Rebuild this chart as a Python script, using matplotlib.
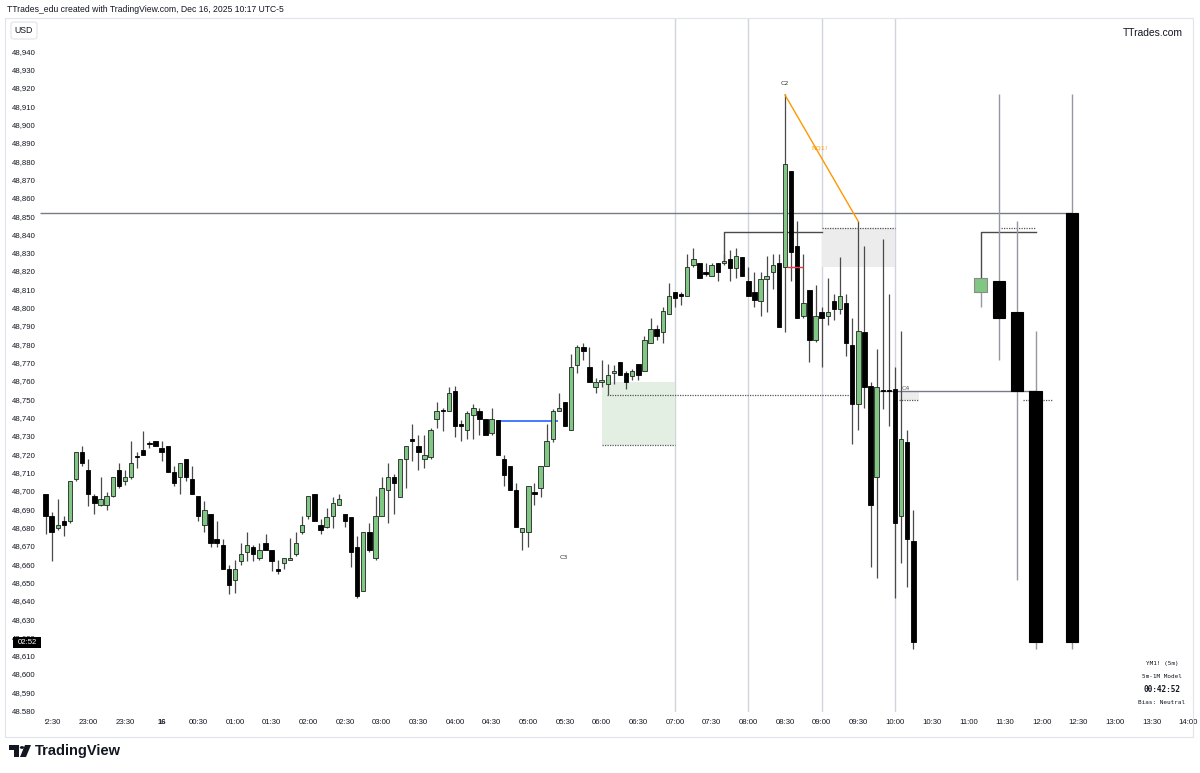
import matplotlib
matplotlib.use("Agg")
import matplotlib.pyplot as plt
from matplotlib.patches import Rectangle, Polygon, Circle, FancyBboxPatch
import matplotlib.transforms as mtransforms

# 5m candles, minutes relative to 07:00 (first bar 22:25)
t0 = -515
opens = [48699, 48687, 48680, 48684, 48684, 48707, 48722, 48712, 48698, 48693,
         48693, 48698, 48712, 48706, 48708, 48719, 48723, 48726, 48728, 48724,
         48725, 48711, 48708, 48718, 48707, 48698, 48682, 48688, 48674, 48671,
         48658, 48652, 48662, 48667, 48670, 48664, 48672, 48668, 48657, 48661,
         48663, 48666, 48678, 48687, 48699, 48682, 48681, 48687, 48693, 48688,
         48686, 48670, 48646, 48678, 48664, 48687, 48701, 48708, 48697, 48718,
         48728, 48725, 48718, 48719, 48740, 48744, 48744, 48755, 48737, 48734,
         48742, 48744, 48740, 48732, 48739, 48718, 48714, 48701, 48678, 48678,
         48699, 48702, 48714, 48729, 48744, 48749, 48734, 48769, 48779, 48768,
         48757, 48760, 48759, 48765, 48771, 48765, 48763, 48770, 48766, 48781,
         48789, 48787, 48797, 48809, 48807, 48807, 48824, 48825, 48820, 48818,
         48825, 48825, 48827, 48822, 48828, 48815, 48809, 48804, 48816, 48820,
         48825, 48823, 48875, 48834, 48796, 48810, 48783, 48798, 48796, 48804,
         48800, 48803, 48780, 48748, 48787, 48758, 48708, 48755, 48755, 48756,
         48687, 48727, 48673]
highs = [48699, 48689, 48696, 48687, 48706, 48722, 48725, 48718, 48699, 48708,
         48700, 48708, 48716, 48712, 48728, 48722, 48733, 48728, 48728, 48728,
         48725, 48714, 48716, 48718, 48714, 48698, 48695, 48688, 48684, 48674,
         48660, 48663, 48672, 48678, 48671, 48672, 48677, 48668, 48663, 48664,
         48675, 48678, 48687, 48698, 48699, 48685, 48691, 48697, 48699, 48688,
         48686, 48676, 48678, 48683, 48698, 48708, 48716, 48710, 48718, 48725,
         48737, 48731, 48731, 48735, 48749, 48746, 48757, 48758, 48739, 48744,
         48748, 48746, 48740, 48746, 48739, 48720, 48714, 48705, 48680, 48703,
         48705, 48714, 48737, 48745, 48754, 48749, 48775, 48780, 48781, 48779,
         48762, 48772, 48770, 48769, 48771, 48766, 48767, 48770, 48785, 48795,
         48791, 48801, 48814, 48809, 48809, 48830, 48833, 48825, 48825, 48825,
         48825, 48830, 48832, 48833, 48828, 48823, 48820, 48820, 48829, 48830,
         48830, 48917, 48875, 48848, 48830, 48810, 48813, 48801, 48817, 48808,
         48828, 48808, 48795, 48848, 48834, 48760, 48778, 48838, 48808, 48768,
         48788, 48734, 48690]
lows = [48677, 48662, 48679, 48676, 48683, 48706, 48714, 48692, 48688, 48692,
        48690, 48697, 48702, 48704, 48707, 48713, 48720, 48724, 48725, 48717,
        48711, 48703, 48699, 48706, 48699, 48684, 48678, 48670, 48670, 48658,
        48644, 48645, 48660, 48662, 48662, 48663, 48668, 48657, 48655, 48658,
        48663, 48665, 48677, 48685, 48684, 48677, 48680, 48680, 48693, 48681,
        48659, 48642, 48646, 48667, 48663, 48687, 48683, 48688, 48697, 48702,
        48717, 48712, 48713, 48718, 48735, 48733, 48744, 48730, 48728, 48729,
        48729, 48731, 48731, 48731, 48720, 48703, 48701, 48681, 48668, 48670,
        48693, 48697, 48714, 48727, 48744, 48736, 48734, 48765, 48772, 48760,
        48754, 48757, 48753, 48759, 48764, 48756, 48761, 48761, 48766, 48781,
        48783, 48781, 48797, 48801, 48802, 48807, 48823, 48817, 48818, 48818,
        48815, 48824, 48815, 48817, 48818, 48807, 48801, 48796, 48798, 48811,
        48790, 48787, 48815, 48795, 48795, 48771, 48782, 48768, 48791, 48794,
        48797, 48774, 48726, 48734, 48746, 48659, 48653, 48745, 48736, 48642,
        48661, 48648, 48614]
closes = [48687, 48678, 48682, 48682, 48706, 48722, 48716, 48699, 48694, 48696,
          48698, 48708, 48703, 48708, 48716, 48719, 48720, 48726, 48725, 48722,
          48711, 48705, 48716, 48708, 48699, 48687, 48690, 48672, 48672, 48658,
          48649, 48658, 48666, 48671, 48666, 48668, 48668, 48662, 48657, 48664,
          48664, 48672, 48682, 48698, 48684, 48679, 48686, 48694, 48696, 48684,
          48667, 48643, 48678, 48668, 48687, 48702, 48708, 48705, 48718, 48725,
          48728, 48722, 48720, 48734, 48744, 48744, 48754, 48736, 48736, 48743,
          48746, 48740, 48731, 48740, 48720, 48709, 48701, 48681, 48680, 48703,
          48699, 48714, 48728, 48744, 48746, 48736, 48768, 48779, 48777, 48760,
          48760, 48761, 48764, 48766, 48764, 48760, 48766, 48764, 48783, 48789,
          48785, 48799, 48807, 48806, 48807, 48823, 48827, 48817, 48819, 48824,
          48820, 48826, 48822, 48829, 48818, 48807, 48805, 48816, 48818, 48824,
          48790, 48879, 48831, 48795, 48803, 48783, 48796, 48795, 48798, 48800,
          48807, 48781, 48748, 48788, 48757, 48693, 48757, 48755, 48755, 48683,
          48729, 48674, 48618]

# higher timeframe candles projected on the right
htf_times = [250, 265, 280, 295, 325]
htf_open = [48809, 48815, 48798, 48755, 48852]
htf_high = [48817, 48917, 48848, 48788, 48917]
htf_low = [48801, 48772, 48652, 48614, 48614]
htf_close = [48817, 48795, 48755, 48618, 48618]

price_ticks = list(range(48580, 48950, 10))
time_ticks = list(range(-510, 421, 30))
time_labels = ["22:30", "23:00", "23:30", "16", "00:30", "01:00", "01:30", "02:00",
               "02:30", "03:00", "03:30", "04:00", "04:30", "05:00", "05:30", "06:00",
               "06:30", "07:00", "07:30", "08:00", "08:30", "09:00", "09:30", "10:00",
               "10:30", "11:00", "11:30", "12:00", "12:30", "13:00", "13:30", "14:00"]

W, H = 1200, 773
GREEN = "#81c784"
TXT = "#131722"

fig = plt.figure(figsize=(W / 100, H / 100), dpi=100)
fig.patch.set_facecolor("white")


def fx(x):
    return x / W


def fy(y):
    return 1 - y / H


ax = fig.add_axes([fx(40), fy(712), fx(1193) - fx(40), fy(18) - fy(712)])
ax.set_xlim(-519.5, 423.8)
ax.set_ylim(48579.8, 48958.7)
ax.axis("off")

# session separators
for t in [0, 60, 120, 180]:
    ax.axvline(t, color="#d1d4dc", lw=1.0, zorder=0)

# zones
ax.add_patch(Rectangle((-60, 48725.4), 60, 48759.8 - 48725.4, facecolor="#e3efe3",
                       edgecolor="none", zorder=0.5))
ax.hlines(48725.4, -60, 0, colors="#555555", lw=0.9, linestyles=(0, (1, 1)), zorder=1)
ax.add_patch(Rectangle((120, 48822.7), 60, 48844 - 48822.7, facecolor="#ececec",
                       edgecolor="none", zorder=0.5))
ax.hlines(48844, 120, 180, colors="#555555", lw=0.9, linestyles=(0, (1, 1)), zorder=1)
ax.add_patch(Rectangle((183, 48750), 17, 5.3, facecolor="#ececec", edgecolor="none", zorder=0.5))
ax.hlines(48750, 183, 200, colors="#555555", lw=0.9, linestyles=(0, (1, 1)), zorder=1)

# levels
ax.hlines(48852.4, -519.5, 325, colors="#787b86", lw=1.0, zorder=1)
ax.hlines(48755.3, 166, 295, colors="#787b86", lw=1.0, zorder=1)
ax.hlines(48752.7, -55.9, 143, colors="#555555", lw=0.9, linestyles=(0, (1, 1)), zorder=1)
ax.hlines(48750, 285, 309, colors="#555555", lw=0.9, linestyles=(0, (1, 1)), zorder=1)
ax.hlines(48844, 267, 295, colors="#555555", lw=0.9, linestyles=(0, (1, 1)), zorder=1)
ax.hlines(48738.8, -145.5, -96, colors="#2962ff", lw=1.2, zorder=1)
ax.hlines(48822.7, 91.6, 104.7, colors="#f23645", lw=1.0, zorder=4)

# brackets
ax.plot([40, 40, 120], [48825.8, 48841.8, 48841.8], color="#4a4a4a", lw=1.0, zorder=1)
ax.plot([250.4, 250.4, 295], [48817.4, 48841.8, 48841.8], color="#4a4a4a", lw=1.0, zorder=1)

# SMT line
ax.plot([90, 150], [48916.7, 48847.6], color="#ff9800", lw=1.0, zorder=4)
ax.text(118.6, 48887.7, "NQ1!", color="#ff9800", fontsize=4.6, ha="center", va="center",
        zorder=5)

# 5m candles
times = [t0 + 5 * i for i in range(len(opens))]
for t, o, h, l, c in zip(times, opens, highs, lows, closes):
    ax.vlines(t, l, h, colors="#4a4a4a", lw=0.9, zorder=2)
    bot = min(o, c)
    hgt = max(abs(c - o), 0.8)
    if c > o:
        ax.add_patch(Rectangle((t - 1.8, bot), 3.6, hgt, facecolor=GREEN,
                               edgecolor="#222222", lw=0.6, zorder=3))
    else:
        ax.add_patch(Rectangle((t - 1.8, bot), 3.6, hgt, facecolor="black",
                               edgecolor="black", lw=0.6, zorder=3))

# projected candles
for t, o, h, l, c in zip(htf_times, htf_open, htf_high, htf_low, htf_close):
    ax.vlines(t, l, h, colors="#9598a1", lw=1.0, zorder=2)
    fc = GREEN if c > o else "black"
    ec = "#8a8a8a" if c > o else "black"
    ax.add_patch(Rectangle((t - 5, min(o, c)), 10, abs(c - o), facecolor=fc,
                           edgecolor=ec, lw=0.8, zorder=3))

# labels
ax.text(90, 48922.7, "C2", fontsize=4.6, color="#333333", ha="center", va="center")
ax.text(-90.6, 48664.2, "C3", fontsize=4.6, color="#333333", ha="center", va="center")
ax.text(189, 48756.2, "C4", fontsize=4.6, color="#555555", ha="center", va="center")

# price scale
ytr = mtransforms.blended_transform_factory(fig.transFigure, ax.transData)
for p in price_ticks:
    ax.text(fx(12), p, f"{p:,}", transform=ytr, fontsize=5.6, color=TXT,
            ha="left", va="center", family="Liberation Sans")

# time scale
xtr = mtransforms.blended_transform_factory(ax.transData, fig.transFigure)
for t, lab in zip(time_ticks, time_labels):
    ax.text(t, fy(722), lab, transform=xtr, fontsize=5.6, color=TXT, ha="center",
            va="center", family="Liberation Sans",
            fontweight="bold" if lab == "16" else "normal")

# mask for clipped first time label
fig.patches.append(Rectangle((fx(6), fy(733)), fx(45) - fx(6), fy(714) - fy(733),
                             transform=fig.transFigure, facecolor="white",
                             edgecolor="none", zorder=5))

# chart frame
fig.patches.append(Rectangle((fx(5), fy(737)), fx(1193) - fx(5), fy(18) - fy(737),
                             transform=fig.transFigure, facecolor="none",
                             edgecolor="#e0e3eb", lw=0.8, zorder=6))

# USD badge
fig.patches.append(FancyBboxPatch((fx(11), fy(39)), fx(37) - fx(11), fy(22) - fy(39),
                                  boxstyle="round,pad=0,rounding_size=0.003",
                                  transform=fig.transFigure, facecolor="white",
                                  edgecolor="#e0e3eb", lw=0.8, zorder=6))
fig.text(fx(24), fy(30.5), "USD", fontsize=6.3, color=TXT, ha="center", va="center",
         family="Liberation Sans", zorder=7)

# countdown badge (covers the 48,620 label as in the original)
fig.patches.append(Rectangle((fx(13), fy(648)), fx(41) - fx(13), fy(637) - fy(648),
                             transform=fig.transFigure, facecolor="black",
                             edgecolor="none", zorder=6))
fig.text(fx(27), fy(642.5), "02:52", fontsize=5.6, color="white", ha="center",
         va="center", family="Liberation Sans", zorder=7)

# header / watermark
fig.text(fx(7), fy(9.5), "TTrades_edu created with TradingView.com, Dec 16, 2025 10:17 UTC-5",
         fontsize=6.25, color=TXT, ha="left", va="center", family="Liberation Sans")
fig.text(fx(1183), fy(33), "TTrades.com", fontsize=7.4, color=TXT, ha="right",
         va="center", family="Liberation Sans")

# info table
info = [("YM1! (5m)", 663, 4.3, "normal"), ("5m-1M Model", 676, 4.3, "normal"),
        ("00:42:52", 689, 5.6, "bold"), ("Bias: Neutral", 702, 4.3, "normal")]
for s, y, fs, fw in info:
    fig.text(fx(1162), fy(y), s, fontsize=fs, fontweight=fw, color=TXT, ha="center",
             va="center", family="DejaVu Sans Mono")

# TradingView logo
logo = [Polygon([(fx(9), fy(745)), (fx(19), fy(745)), (fx(19), fy(757)), (fx(14), fy(757)),
                 (fx(14), fy(750)), (fx(9), fy(750))], closed=True),
        Circle((fx(22), fy(747.5)), 2.2 / W),
        Polygon([(fx(25), fy(745)), (fx(31), fy(745)), (fx(26), fy(757)), (fx(20), fy(757))],
                closed=True)]
for pch in logo:
    pch.set_transform(fig.transFigure)
    pch.set_facecolor(TXT)
    pch.set_edgecolor("none")
    fig.patches.append(pch)
fig.text(fx(35), fy(751), "TradingView", fontsize=10.5, fontweight="semibold",
         color=TXT, ha="left", va="center", family="Liberation Sans")

fig.savefig("out.png", dpi=100)
